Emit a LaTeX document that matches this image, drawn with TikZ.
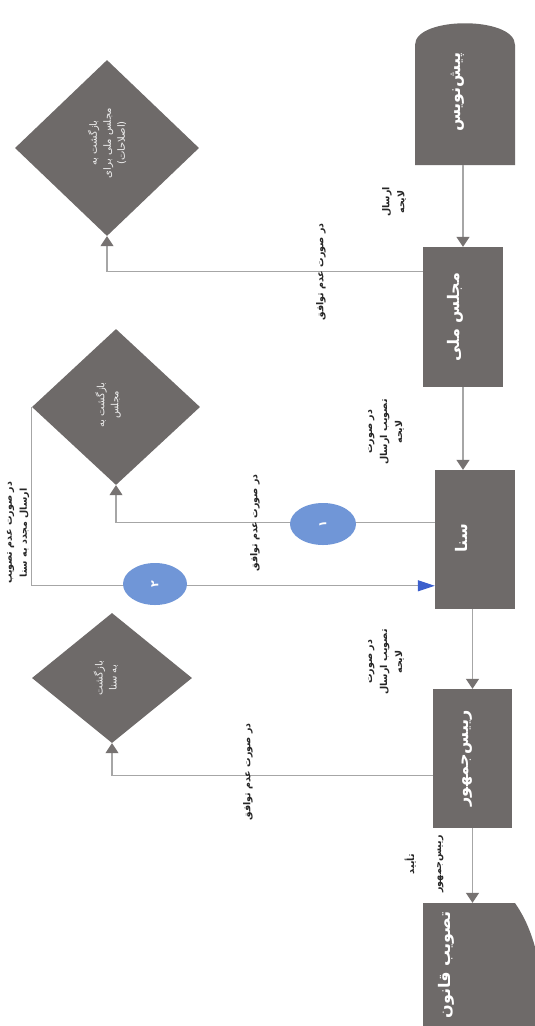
\documentclass[tikz,border=0pt]{standalone}
\usepackage{fontspec}
\usepackage{graphicx}
\usetikzlibrary{shapes.geometric,arrows.meta}
\newfontfamily\arabicfont[Script=Arabic]{DejaVu Sans}
\TeXXeTstate=1
\definecolor{boxgray}{RGB}{110,106,105}
\definecolor{linegray}{RGB}{166,166,166}
\definecolor{tipgray}{RGB}{118,114,113}
\definecolor{ellblue}{RGB}{112,150,215}
\definecolor{tipblue}{RGB}{59,95,205}
\tikzset{
  boxnode/.style={draw=none, fill=boxgray, inner sep=0pt},
  dianode/.style={diamond, draw=none, fill=boxgray, inner sep=0pt},
  ellnode/.style={ellipse, draw=none, fill=ellblue, inner sep=0pt, minimum width=66pt, minimum height=42pt},
  anchornode/.style={inner sep=0pt, draw=none},
  conn/.style={draw=linegray, line width=1.1pt, -{Triangle[width=13pt,length=10pt,color=tipgray]}},
  bluearr/.style={draw=linegray, line width=1.1pt, -{Triangle[width=11pt,length=17pt,color=tipblue]}},
  intext/.style={rotate=90, text=white, font=\arabicfont\bfseries\fontsize{16}{19}\selectfont, inner sep=0pt, align=center},
  diatext/.style={rotate=90, text=white!88!gray, font=\arabicfont\fontsize{10}{14}\selectfont, inner sep=0pt, align=center},
  lbl/.style={rotate=90, text=black!85, font=\arabicfont\bfseries\fontsize{9.5}{15}\selectfont, inner sep=0pt, align=center}
}
\begin{document}
\begin{tikzpicture}[x=1pt,y=-1pt]
\useasboundingbox (0,0) rectangle (535,1026);
\fill[white] (0,0) rectangle (535,1026);

% cylinder
\node[anchornode, minimum width=100pt, minimum height=142pt] (cyl) at (465,94) {};
\fill[boxgray] (415,165) -- (415,45) .. controls (415,16) and (515,16) .. (515,45) -- (515,165) -- cycle;
\node[intext] (tcyl) at (458,92) {\beginR پیش‌نویس\endR};

% rectangles
\node[boxnode, minimum width=80pt, minimum height=140pt] (r2) at (463,317) {};
\node[intext] (tr2) at (455,317) {\beginR مجلس ملی\endR};
\node[boxnode, minimum width=80pt, minimum height=139pt] (r3) at (475,539.5) {};
\node[intext] (tr3) at (462,538) {\beginR سنا\endR};
\node[boxnode, minimum width=79pt, minimum height=139pt] (r4) at (472.5,758.5) {};
\node[intext] (tr4) at (467,758) {\beginR رییس‌جمهور\endR};

% document
\node[anchornode, minimum width=112pt, minimum height=123pt] (doc) at (479,964.5) {};
\fill[boxgray] (423,903) -- (515,903) .. controls (528,922) and (538,945) .. (545,1000) -- (545,1030) -- (423,1030) -- cycle;
\node[intext] (tdoc) at (446,965) {\beginR تصویب قانون\endR};

% diamonds
\node[dianode, minimum width=184pt, minimum height=176pt] (d1) at (107,148) {};
\node[diatext] (td1) at (107,143) {\beginR بازگشت به\endR\\\beginR مجلس ملی برای\endR\\\beginR (اصلاحات)\endR};
\node[dianode, minimum width=168pt, minimum height=156pt] (d2) at (116,407) {};
\node[diatext] (td2) at (108,405) {\beginR بازگشت به\endR\\\beginR مجلس\endR};
\node[dianode, minimum width=160pt, minimum height=130pt] (d3) at (112,678) {};
\node[diatext] (td3) at (106,678) {\beginR بازگشت\endR\\\beginR به سنا\endR};

% main flow
\draw[conn] (cyl.south -| r2.north) -- (r2.north);
\draw[conn] (r2.south) -- (r2.south |- r3.north);
\draw[conn] (r4.north |- r3.south) -- (r4.north);
\draw[conn] (r4.south) -- (r4.south |- doc.north);

% rejection branches
\coordinate (s2) at ([yshift=-25pt]r2.north west);
\draw[conn] (s2) -| (d1.south);
\coordinate (s3) at ([yshift=-53pt]r3.north west);
\draw[conn] (s3) -| (d2.south);
\coordinate (s4) at ([yshift=-87pt]r4.north west);
\draw[conn] (s4) -| (d3.south);

% loop back to senate
\coordinate (t3) at ([yshift=-116pt]r3.north west);
\draw[bluearr] (d2.west) |- (t3);

% numbered ellipses
\node[ellnode] (e1) at (323,524) {};
\node[rotate=90, text=white, font=\arabicfont\bfseries\fontsize{11}{12}\selectfont] (te1) at (e1) {\beginR ۱\endR};
\node[ellnode, minimum width=64pt] (e2) at (155,584) {};
\node[rotate=90, text=white, font=\arabicfont\bfseries\fontsize{11}{12}\selectfont] (te2) at (e2) {\beginR ۲\endR};

% labels
\node[lbl] (lA) at (394,202) {\beginR ارسال\endR\\\beginR لایحه\endR};
\node[lbl] (lB) at (386,432) {\beginR در صورت\endR\\\beginR تصویب ارسال\endR\\\beginR لایحه\endR};
\node[lbl] (lC) at (386,662) {\beginR در صورت\endR\\\beginR تصویب ارسال\endR\\\beginR لایحه\endR};
\node[lbl] (lD) at (424,864) {\beginR تأیید\endR\\[12pt]\beginR رییس‌جمهور\endR};
\node[lbl] (lE1) at (321,272) {\beginR در صورت عدم توافق\endR};
\node[lbl] (lE2) at (255,523) {\beginR در صورت عدم توافق\endR};
\node[lbl] (lE3) at (248,772) {\beginR در صورت عدم توافق\endR};
\node[lbl] (lL) at (18,533) {\beginR در صورت عدم تصویب\endR\\\beginR ارسال مجدد به سنا\endR};
\end{tikzpicture}
\end{document}
